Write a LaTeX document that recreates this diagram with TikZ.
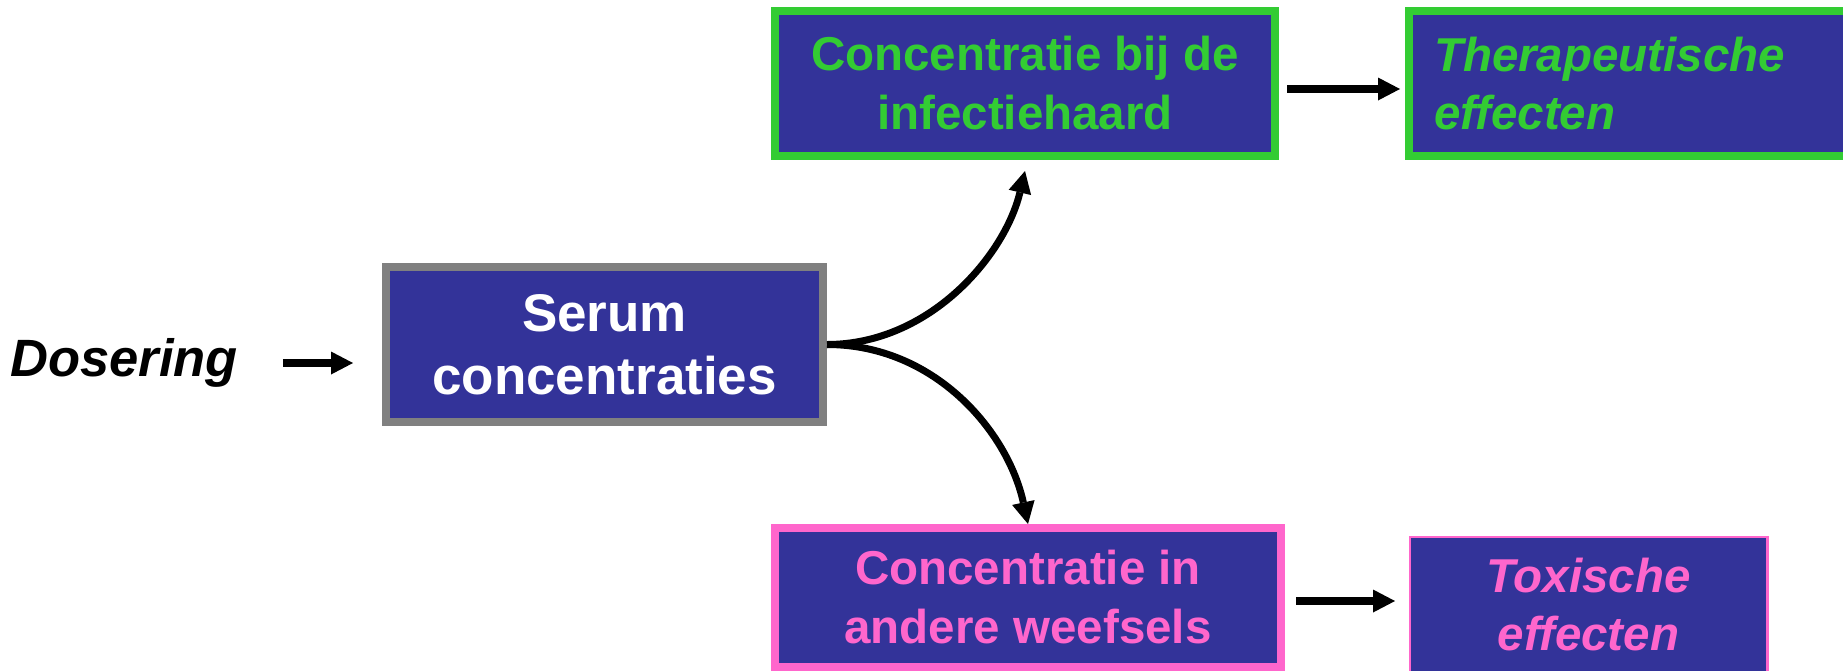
\documentclass[tikz,border=0pt]{standalone}
\usepackage{fontspec}
\setmainfont{Liberation Sans}
\usetikzlibrary{positioning,arrows.meta}

\definecolor{boxblue}{RGB}{51,51,153}
\definecolor{sitegreen}{RGB}{51,204,51}
\definecolor{toxpink}{RGB}{255,102,204}
\definecolor{serumgray}{RGB}{128,128,128}

\begin{document}
\begin{tikzpicture}[
    x=1pt, y=-1pt,
    box/.style={rectangle, fill=boxblue, line width=8pt, align=center, inner sep=0pt},
    serumbox/.style={box, draw=serumgray, text=white, minimum width=437pt, minimum height=155pt, font=\bfseries\fontsize{53}{63}\selectfont},
    goodbox/.style={box, draw=sitegreen, text=sitegreen, minimum height=145pt},
    badbox/.style={box, draw=toxpink, text=toxpink},
    boxtext/.style={font=\bfseries\fontsize{47.5}{59}\selectfont},
    efftext/.style={font=\bfseries\itshape\fontsize{47.5}{58}\selectfont},
    arrow/.style={-{Triangle[length=22pt, width=23pt, line width=0pt]}, line width=8pt},
    curve/.style={arrow, line width=7pt}
]
\useasboundingbox (0,0) rectangle (1843,670);
\clip (0,0) rectangle (1843,670);

\node[serumbox] (serum) at (604.5,344.5) {Serum\\concentraties};
\node[font=\bfseries\itshape\fontsize{52.5}{60}\selectfont, inner sep=0pt, anchor=base] (dos) at (124,376) {Dosering};

\node[goodbox, boxtext, minimum width=500pt] (site) at (1025,83.5) {Concentratie bij de\\infectiehaard};
\node[goodbox, efftext, right=126pt of site, text width=460pt, align=left, inner xsep=25pt] (thera) {Therapeutische\\effecten};

\node[badbox, boxtext, minimum width=506pt, minimum height=139pt] (tissue) at (1028,597.5) {Concentratie in\\andere weefsels};
\node[badbox, efftext, line width=2.5pt, minimum width=357.5pt, minimum height=135pt, right=123.5pt of tissue, yshift=-7pt] (toxic) {Toxische\\effecten};

% straight arrows
\draw[arrow, shorten <=45pt, shorten >=29pt] ([yshift=13pt]dos.base east) -- ([yshift=-18.5pt]serum.west);
\draw[arrow, shorten <=8pt, shorten >=5pt] ([yshift=-5.5pt]site.east) -- ([yshift=-5.5pt]thera.west);
\draw[arrow, shorten <=11pt, shorten >=13.5pt] ([yshift=-3.5pt]tissue.east) -- ([yshift=3.5pt]toxic.west);

% split from serum
\draw[curve] (serum.east) .. controls +(103,0) and +(-20,84) .. ([yshift=-11pt]site.south);
\draw[curve] (serum.east) .. controls +(108,0) and +(-20,-92) .. (tissue.north);

\end{tikzpicture}
\end{document}
